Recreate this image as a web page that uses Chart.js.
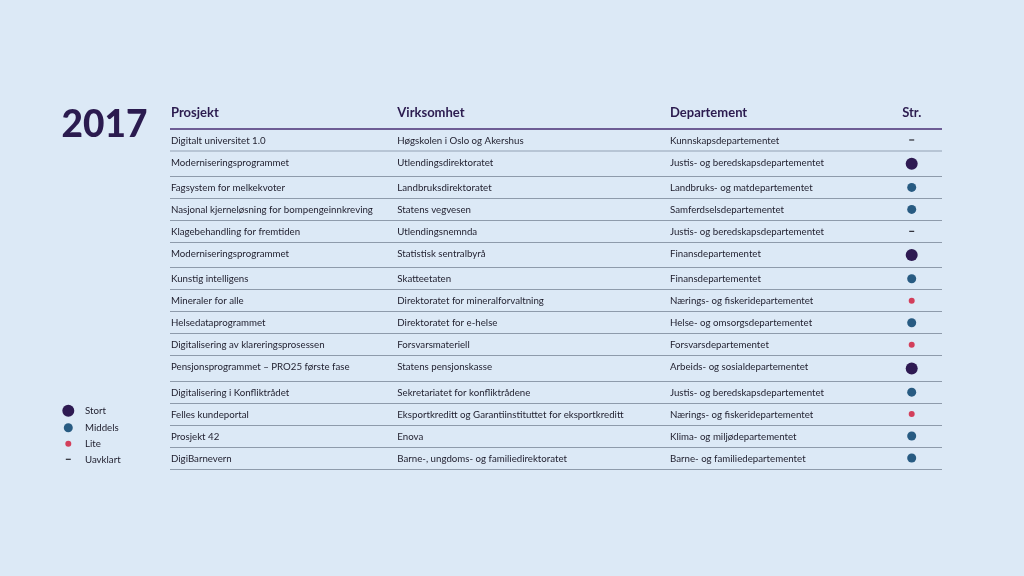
<!DOCTYPE html>
<html><head><meta charset="utf-8">
<script src="https://cdn.jsdelivr.net/npm/chart.js@4"></script>
<style>html,body{margin:0;padding:0;background:#dce9f6;overflow:hidden}canvas{display:block}</style>
</head><body><canvas id="c" width="1024" height="576"></canvas>
<script>
// ---------- DATA ----------
const title = '2017';
const headers = ['Prosjekt', 'Virksomhet', 'Departement', 'Str.'];
const projects = [
  'Digitalt universitet 1.0',
  'Moderniseringsprogrammet',
  'Fagsystem for melkekvoter',
  'Nasjonal kjerneløsning for bompengeinnkreving',
  'Klagebehandling for fremtiden',
  'Moderniseringsprogrammet',
  'Kunstig intelligens',
  'Mineraler for alle',
  'Helsedataprogrammet',
  'Digitalisering av klareringsprosessen',
  'Pensjonsprogrammet – PRO25 første fase',
  'Digitalisering i Konfliktrådet',
  'Felles kundeportal',
  'Prosjekt 42',
  'DigiBarnevern'
];
const agencies = [
  'Høgskolen i Oslo og Akershus',
  'Utlendingsdirektoratet',
  'Landbruksdirektoratet',
  'Statens vegvesen',
  'Utlendingsnemnda',
  'Statistisk sentralbyrå',
  'Skatteetaten',
  'Direktoratet for mineralforvaltning',
  'Direktoratet for e-helse',
  'Forsvarsmateriell',
  'Statens pensjonskasse',
  'Sekretariatet for konfliktrådene',
  'Eksportkreditt og Garantiinstituttet for eksportkreditt',
  'Enova',
  'Barne-, ungdoms- og familiedirektoratet'
];
const departments = [
  'Kunnskapsdepartementet',
  'Justis- og beredskapsdepartementet',
  'Landbruks- og matdepartementet',
  'Samferdselsdepartementet',
  'Justis- og beredskapsdepartementet',
  'Finansdepartementet',
  'Finansdepartementet',
  'Nærings- og fiskeridepartementet',
  'Helse- og omsorgsdepartementet',
  'Forsvarsdepartementet',
  'Arbeids- og sosialdepartementet',
  'Justis- og beredskapsdepartementet',
  'Nærings- og fiskeridepartementet',
  'Klima- og miljødepartementet',
  'Barne- og familiedepartementet'
];
const sizes = [
  'Uavklart', 'Stort', 'Middels', 'Middels', 'Uavklart',
  'Stort', 'Middels', 'Lite', 'Middels', 'Lite',
  'Stort', 'Middels', 'Lite', 'Middels', 'Middels'
];
const sizeLabels = ['Stort', 'Middels', 'Lite', 'Uavklart'];

// ---------- STYLE / LAYOUT ----------
const FONT = 'Lato, "Open Sans", sans-serif';
const BG = '#dce9f6';
const TITLE_COLOR = '#2b1b4f';
const TEXT_COLOR = '#1e1d2c';
const sizeStyle = {
  Stort:    { color: '#2e1a52', radius: 6,   style: 'circle', border: 0,   rowH: 1.16 },
  Middels:  { color: '#285b82', radius: 4.5, style: 'circle', border: 0,   rowH: 1 },
  Lite:     { color: '#d33f5b', radius: 3,   style: 'circle', border: 0,   rowH: 1 },
  Uavklart: { color: '#2a2a33', radius: 2.5, style: 'line',   border: 1.2, rowH: 1 }
};
const colX = [1, 227.3, 500, 741.7];   // column anchors on x scale (0..772)
const TEXT_BASE = 0.665;               // baseline offset inside a row (row units)

const bounds = [0];
sizes.forEach((s, i) => bounds.push(bounds[i] + sizeStyle[s].rowH));
const centers = sizes.map((s, i) => (bounds[i] + bounds[i + 1]) / 2);

const datasets = sizeLabels.map(lbl => {
  const st = sizeStyle[lbl];
  return {
    label: lbl,
    data: sizes.map((s, i) => s === lbl ? { x: colX[3], y: centers[i] } : null).filter(Boolean),
    pointStyle: st.style,
    pointRadius: st.radius,
    pointHoverRadius: st.radius,
    backgroundColor: st.color,
    borderColor: st.color,
    pointBorderWidth: st.border,
    clip: false
  };
});

const bgPlugin = {
  id: 'bg',
  beforeDraw(chart) {
    const c = chart.ctx;
    c.save(); c.fillStyle = BG; c.fillRect(0, 0, chart.width, chart.height); c.restore();
  }
};

const textPlugin = {
  id: 'tableText',
  afterDraw(chart) {
    const c = chart.ctx, xs = chart.scales.x, ys = chart.scales.y;
    c.save();
    // year
    c.fillStyle = TITLE_COLOR;
    c.textBaseline = 'alphabetic';
    c.textAlign = 'left';
    c.font = `900 37px ${FONT}`;
    c.fillText(title, 61.5, 136.7);
    // headers
    c.font = `700 13px ${FONT}`;
    headers.forEach((h, i) => {
      c.textAlign = i === 3 ? 'center' : 'left';
      c.fillText(h, xs.getPixelForValue(colX[i]), 116.7);
    });
    // body
    c.fillStyle = TEXT_COLOR;
    c.font = `400 9.7px ${FONT}`;
    c.textAlign = 'left';
    const cols = [projects, agencies, departments];
    sizes.forEach((s, i) => {
      const y = ys.getPixelForValue(bounds[i] + TEXT_BASE);
      cols.forEach((arr, k) => c.fillText(arr[i], xs.getPixelForValue(colX[k]), y));
    });
    // legend
    const lx = 68.3, ly = [410.7, 427.7, 443.7, 459.3];
    c.font = `400 9.7px ${FONT}`;
    c.textBaseline = 'middle';
    sizeLabels.forEach((lbl, i) => {
      const st = sizeStyle[lbl];
      if (st.style === 'circle') {
        c.fillStyle = st.color;
        c.beginPath(); c.arc(lx, ly[i], st.radius, 0, Math.PI * 2); c.fill();
      } else {
        c.strokeStyle = st.color; c.lineWidth = st.border;
        c.beginPath(); c.moveTo(lx - st.radius, ly[i]); c.lineTo(lx + st.radius, ly[i]); c.stroke();
      }
      c.fillStyle = TEXT_COLOR;
      c.fillText(lbl, 85, ly[i] + 0.5);
    });
    c.restore();
  }
};

new Chart(document.getElementById('c'), {
  type: 'scatter',
  data: { datasets },
  options: {
    responsive: false,
    animation: false,
    devicePixelRatio: 1,
    layout: { padding: { left: 170, right: 82, top: 129, bottom: 107 } },
    plugins: { legend: { display: false }, tooltip: { enabled: false } },
    scales: {
      x: { type: 'linear', min: 0, max: 772, display: false },
      y: {
        type: 'linear', min: 0, max: bounds[bounds.length - 1], reverse: true,
        afterBuildTicks: s => { s.ticks = bounds.map(v => ({ value: v })); },
        afterFit: s => { s.width = 0; },
        ticks: { display: false },
        border: { display: false },
        grid: {
          drawTicks: false,
          color: ctx => ctx.index === 0 ? '#6d5d95' : (ctx.index === 1 ? '#b7c5d5' : '#8e9bab'),
          lineWidth: ctx => ctx.index <= 1 ? 2 : 1
        }
      }
    }
  },
  plugins: [bgPlugin, textPlugin]
});
</script>
</body></html>
